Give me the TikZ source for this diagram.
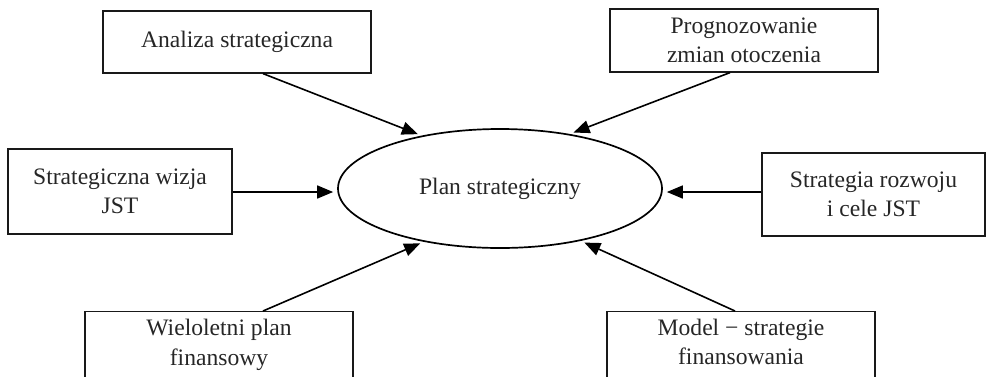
\documentclass[tikz,border=0pt]{standalone}
\usepackage{fontspec}
\setmainfont{Liberation Serif}
\usetikzlibrary{arrows.meta,shapes.geometric}
\begin{document}
\begin{tikzpicture}[x=1pt,y=-1pt,
  lbl/.style={text=black!85, font=\fontsize{23.6}{29.5}\selectfont},
  box/.style={lbl, draw=black!90, line width=1.2pt, rectangle, inner sep=0pt, align=center},
  txt/.style={lbl, inner sep=0pt, align=center},
  oval/.style={lbl, draw=black, line width=1.7pt, ellipse, inner sep=0pt,
               minimum width=324pt, minimum height=119pt},
  arr/.style={draw=black, line width=1.6pt, -{Triangle[length=16pt,width=13pt]}, shorten >=4pt}]
\useasboundingbox (0,0) rectangle (986,376);
\clip (0,0) rectangle (986,376);

\node[oval] (plan) at (500,188.5) {Plan strategiczny};

\node[box, minimum width=268pt, minimum height=62pt] (ana) at (237,42) {Analiza strategiczna};
\node[box, minimum width=268pt, minimum height=63pt] (prog) at (744,40.5) {Prognozowanie\\zmian otoczenia};
\node[box, minimum width=224pt, minimum height=85pt] (wiz) at (120,191.5) {Strategiczna wizja\\JST};
\node[box, minimum width=223pt, minimum height=83pt] (rozw) at (873.5,194.5) {Strategia rozwoju\\i cele JST};
\node[box, minimum width=268pt, minimum height=80pt, anchor=north] (wiel) at (219,311) {};
\node[txt] (wielt) at (219,345) {Wieloletni plan\\finansowy};
\node[box, minimum width=268pt, minimum height=80pt, anchor=north] (model) at (741,311) {};
\node[txt] (modelt) at (741,342) {Model − strategie\\finansowania};

\draw[arr] ([xshift=26pt]ana.south) -- (plan.146);
\draw[arr] ([xshift=-14pt]prog.south) -- (plan.38);
\draw[arr] ([yshift=-0.5pt]wiz.east) -- ([yshift=-0.5pt]wiz.east -| plan.west);
\draw[arr] ([yshift=2.5pt]rozw.west) -- ([yshift=2.5pt]rozw.west -| plan.east);
\draw[arr] ([xshift=44pt]wiel.north) -- (plan.215);
\draw[arr] ([xshift=-6pt]model.north) -- (plan.327);
\end{tikzpicture}
\end{document}
